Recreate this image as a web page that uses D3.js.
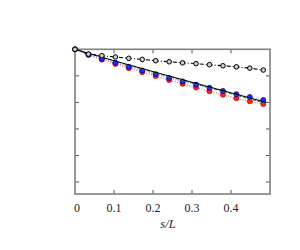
<!DOCTYPE html>
<html>
<head>
<meta charset="utf-8">
<script src="https://cdn.jsdelivr.net/npm/d3@7"></script>
<style>
  body { margin: 0; background: #fff; }
  svg { display: block; }
</style>
</head>
<body>
<div id="chart"></div>
<script>
// sample positions s/L (i/29)
const sPoints = [0, 1/29, 2/29, 3/29, 4/29, 5/29, 6/29, 7/29, 8/29, 9/29, 10/29, 11/29, 12/29, 13/29, 14/29];
const blackVals = [1.000, 0.982, 0.976, 0.971, 0.966, 0.962, 0.957, 0.953, 0.949, 0.946, 0.942, 0.938, 0.934, 0.929, 0.922];
const blueVals = [1.000, 0.980, 0.964, 0.949, 0.934, 0.920, 0.906, 0.892, 0.879, 0.867, 0.855, 0.843, 0.831, 0.820, 0.809];
const redVals = [1.000, 0.979, 0.961, 0.945, 0.929, 0.914, 0.899, 0.884, 0.870, 0.856, 0.842, 0.829, 0.816, 0.804, 0.794];
// theory curves
const lineS = [0, 0.1, 0.2, 0.3, 0.4, 0.49];
const solidVals = [1.000, 0.957, 0.916, 0.876, 0.836, 0.800];
const dashedVals = [1.000, 0.956, 0.914, 0.873, 0.832, 0.796];
const xTicks = [0, 0.1, 0.2, 0.3, 0.4];
const yTicks = [0.5, 0.6, 0.7, 0.8, 0.9];

const width = 300, height = 250;
const plot = { left: 75, right: 270, top: 49.3, bottom: 194 };
const serif = 'Liberation Serif, DejaVu Serif, serif';

const svg = d3.select('#chart').append('svg')
    .attr('width', width)
    .attr('height', height);

const x = d3.scaleLinear().domain([0, 0.5]).range([plot.left, plot.right]);
const y = d3.scaleLinear().domain([0.455, 1.0]).range([plot.bottom, plot.top]);

// ticks (inward on all sides)
const tickColor = '#555';
svg.selectAll('.xt').data(xTicks.slice(1)).enter().append('line')
    .attr('x1', d => x(d)).attr('x2', d => x(d))
    .attr('y1', plot.bottom).attr('y2', plot.bottom - 4)
    .attr('stroke', tickColor).attr('stroke-width', 1);
svg.selectAll('.xtt').data(xTicks.slice(1)).enter().append('line')
    .attr('x1', d => x(d)).attr('x2', d => x(d))
    .attr('y1', plot.top).attr('y2', plot.top + 4)
    .attr('stroke', tickColor).attr('stroke-width', 1);
svg.selectAll('.yt').data(yTicks).enter().append('line')
    .attr('x1', plot.left).attr('x2', plot.left + 4)
    .attr('y1', d => y(d)).attr('y2', d => y(d))
    .attr('stroke', tickColor).attr('stroke-width', 1);
svg.selectAll('.ytr').data(yTicks).enter().append('line')
    .attr('x1', plot.right).attr('x2', plot.right - 4)
    .attr('y1', d => y(d)).attr('y2', d => y(d))
    .attr('stroke', tickColor).attr('stroke-width', 1);

// frame
svg.append('rect')
    .attr('x', plot.left).attr('y', plot.top)
    .attr('width', plot.right - plot.left).attr('height', plot.bottom - plot.top)
    .attr('fill', 'none')
    .attr('stroke', '#808080')
    .attr('stroke-width', 1.6);

// x tick labels
svg.selectAll('.xl').data(xTicks).enter().append('text')
    .attr('x', d => x(d) + (d === 0 ? 2 : 0))
    .attr('y', 212)
    .attr('text-anchor', 'middle')
    .attr('font-family', serif)
    .attr('font-size', 12)
    .attr('fill', '#222')
    .text(d => d === 0 ? '0' : d3.format('.1f')(d));

svg.append('text')
    .attr('x', 168).attr('y', 228)
    .attr('text-anchor', 'middle')
    .attr('font-family', serif)
    .attr('font-style', 'italic')
    .attr('font-size', 12.5)
    .attr('fill', '#222')
    .text('s/L');

const line = d3.line().x(d => x(d[0])).y(d => y(d[1]));
const pts = vals => sPoints.map((s, i) => [s, vals[i]]);
const curve = vals => lineS.map((s, i) => [s, vals[i]]);

// dotted lines through markers
svg.append('path').datum(pts(redVals)).attr('d', line)
    .attr('fill', 'none').attr('stroke', '#ff6666').attr('stroke-width', 1.2)
    .attr('stroke-dasharray', '1,1.5');
svg.append('path').datum(pts(blueVals)).attr('d', line)
    .attr('fill', 'none').attr('stroke', '#8888ff').attr('stroke-width', 1.2)
    .attr('stroke-dasharray', '1,1.5');

// markers for red/blue data
svg.selectAll('.red').data(pts(redVals)).enter().append('circle')
    .attr('cx', d => x(d[0])).attr('cy', d => y(d[1])).attr('r', 2.5)
    .attr('fill', '#ff2020').attr('stroke', '#d00000').attr('stroke-width', 0.8);
svg.selectAll('.blue').data(pts(blueVals)).enter().append('circle')
    .attr('cx', d => x(d[0])).attr('cy', d => y(d[1])).attr('r', 2.5)
    .attr('fill', '#2a2aff').attr('stroke', '#0000a0').attr('stroke-width', 0.8);

// theory curves on top of markers
svg.append('path').datum(curve(dashedVals)).attr('d', line)
    .attr('fill', 'none').attr('stroke', '#2a8a2a').attr('stroke-width', 1)
    .attr('stroke-dasharray', '3,2');
svg.append('path').datum(curve(solidVals)).attr('d', line)
    .attr('fill', 'none').attr('stroke', '#000').attr('stroke-width', 1);

// black dash-dot series
svg.append('path').datum(pts(blackVals)).attr('d', line)
    .attr('fill', 'none').attr('stroke', '#000').attr('stroke-width', 1.1)
    .attr('stroke-dasharray', '4,2,1,2');
svg.selectAll('.blk').data(pts(blackVals)).enter().append('circle')
    .attr('cx', d => x(d[0])).attr('cy', d => y(d[1])).attr('r', 2.3)
    .attr('fill', '#ccc').attr('stroke', '#000').attr('stroke-width', 1);
</script>
</body>
</html>
